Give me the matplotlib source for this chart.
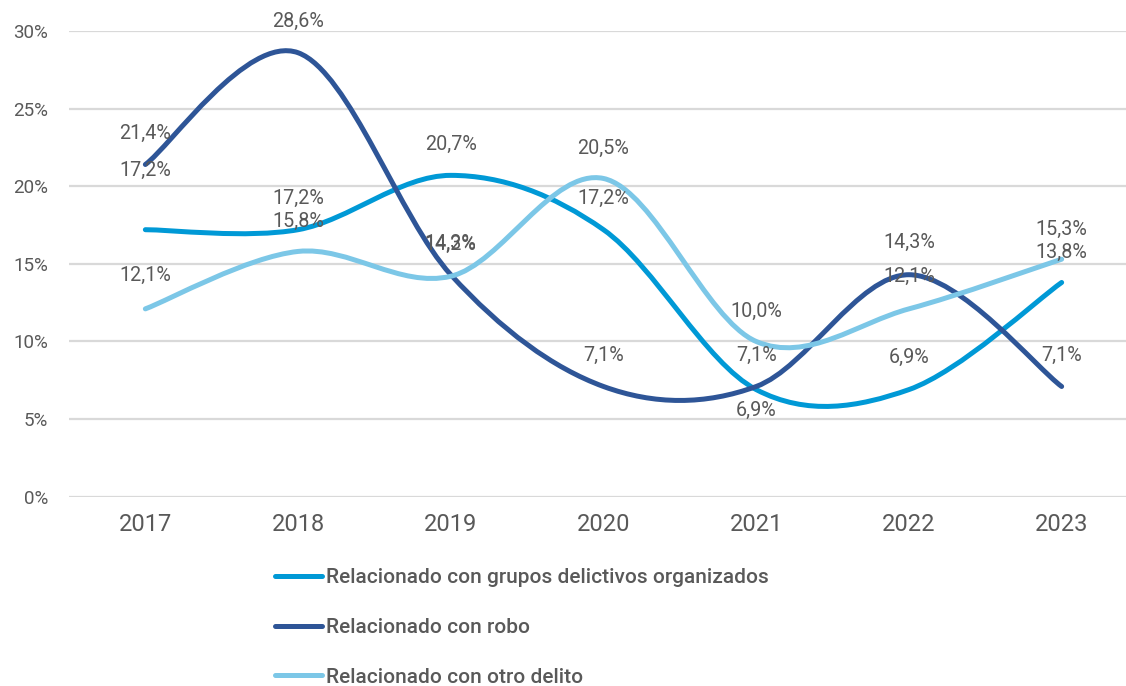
import numpy as np
import matplotlib.pyplot as plt
from matplotlib.path import Path
from matplotlib.patches import PathPatch
from matplotlib.lines import Line2D
from matplotlib.ticker import FuncFormatter

plt.rcParams['font.family'] = ['Roboto', 'DejaVu Sans']

years = ['2017', '2018', '2019', '2020', '2021', '2022', '2023']
grupos = [17.2, 17.2, 20.7, 17.2, 6.9, 6.9, 13.8]
robo = [21.4, 28.6, 14.3, 7.1, 7.1, 14.3, 7.1]
otro = [12.1, 15.8, 14.2, 20.5, 10.0, 12.1, 15.3]

series_names = ['Relacionado con grupos delictivos organizados',
                'Relacionado con robo',
                'Relacionado con otro delito']
colors = ['#0099d6', '#2e5597', '#7cc7e7']

# label offsets in pixels (positive = above point)
grupos_off = [59, 31, 31, 31, -21, 32, 30]
robo_off = [31, 31, 31, 31, 31, 32, 31]
otro_off = [33, 30, 32, 30, 30, 32, 30]

TEXT = '#595959'
GRID = '#d9d9d9'


def smooth_path(xs, ys):
    # excel-like smoothed line: catmull-rom as cubic bezier segments
    pts = np.column_stack([xs, ys]).astype(float)
    ext = np.vstack([pts[0], pts, pts[-1]])
    verts = [tuple(pts[0])]
    codes = [Path.MOVETO]
    for i in range(len(pts) - 1):
        p0, p1, p2, p3 = ext[i], ext[i + 1], ext[i + 2], ext[i + 3]
        c1 = p1 + (p2 - p0) / 6
        c2 = p2 - (p3 - p1) / 6
        verts += [tuple(c1), tuple(c2), tuple(p2)]
        codes += [Path.CURVE4] * 3
    return Path(verts, codes)


W, H = 1126, 686
fig = plt.figure(figsize=(W / 100, H / 100), dpi=100)
ax = fig.add_axes([69 / W, (H - 496.7) / H, 1069 / W, 465.7 / H])

x = np.arange(len(years))
ax.set_xlim(-0.5, len(years) - 0.5)
ax.set_ylim(0, 30)
ax.set_yticks(range(0, 31, 5))
ax.yaxis.set_major_formatter(FuncFormatter(lambda v, p: f'{v:.0f}%'))
ax.set_xticks(x)
ax.set_xticklabels(years)
ax.tick_params(axis='y', length=0, pad=15, labelsize=13.5, labelcolor=TEXT)
ax.tick_params(axis='x', length=0, pad=12, labelsize=17, labelcolor=TEXT)
ax.grid(axis='y', color=GRID, linewidth=1.6)
ax.set_axisbelow(True)
for s in ax.spines.values():
    s.set_visible(False)

data = [grupos, robo, otro]
offsets = [grupos_off, robo_off, otro_off]
for vals, col in zip(data, colors):
    patch = PathPatch(smooth_path(x, vals), fill=False, edgecolor=col,
                      linewidth=3.6, capstyle='round', joinstyle='round', zorder=3)
    ax.add_patch(patch)

for vals, offs in zip(data, offsets):
    for xi, v, o in zip(x, vals, offs):
        ax.annotate(f'{v:.1f}%'.replace('.', ','), (xi, v),
                    xytext=(0, o * 0.72), textcoords='offset points',
                    ha='center', va='center', fontsize=14.2, color=TEXT, zorder=5)

handles = [Line2D([0], [0], color=c, linewidth=3.6, solid_capstyle='round') for c in colors]
leg = fig.legend(handles, series_names, loc='upper left',
                 bbox_to_anchor=(275 / W, 1 - 568 / H), frameon=False,
                 fontsize=15, handlelength=2.25, handletextpad=0.2,
                 labelspacing=1.48, borderpad=0, borderaxespad=0)
for t in leg.get_texts():
    t.set_color(TEXT)
    t.set_fontweight('medium')

fig.savefig('out.png', dpi=100)
